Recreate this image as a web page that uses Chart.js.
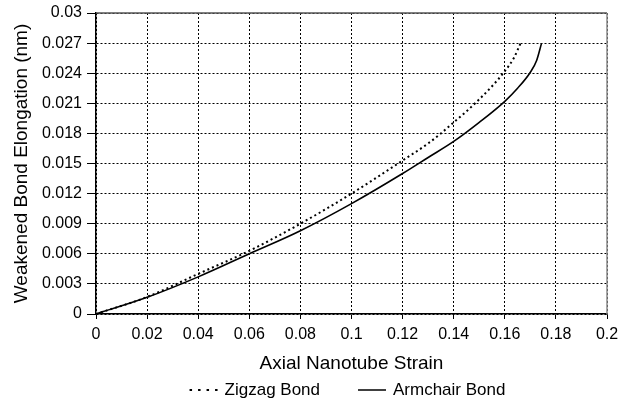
<!DOCTYPE html>
<html><head><meta charset="utf-8">
<script src="https://cdn.jsdelivr.net/npm/chart.js@4/dist/chart.umd.min.js"></script>
<style>html,body{margin:0;padding:0;background:#fff}#wrap{width:619px;height:405px}</style>
</head><body><div id="wrap"><canvas id="c" width="619" height="405"></canvas></div>
<script>
// ---- data ----
const xTickValues = [0, 0.02, 0.04, 0.06, 0.08, 0.1, 0.12, 0.14, 0.16, 0.18, 0.2];
const xTickLabels = ['0', '0.02', '0.04', '0.06', '0.08', '0.1', '0.12', '0.14', '0.16', '0.18', '0.2'];
const yTickValues = [0, 0.003, 0.006, 0.009, 0.012, 0.015, 0.018, 0.021, 0.024, 0.027, 0.03];
const yTickLabels = ['0', '0.003', '0.006', '0.009', '0.012', '0.015', '0.018', '0.021', '0.024', '0.027', '0.03'];

const zigzagStrain = [0, 0.02, 0.04, 0.06, 0.08, 0.1, 0.12, 0.13, 0.135, 0.14, 0.145, 0.15, 0.155, 0.16, 0.1635, 0.1662];
const zigzagElong  = [0, 0.0017, 0.004, 0.0063, 0.009, 0.012, 0.0153, 0.017, 0.018, 0.0191, 0.0202, 0.0214, 0.0227, 0.0242, 0.0255, 0.027];

const armchairStrain = [0, 0.02, 0.04, 0.06, 0.08, 0.1, 0.12, 0.13, 0.14, 0.15, 0.16, 0.165, 0.17, 0.1725, 0.1744];
const armchairElong  = [0, 0.00166, 0.0037, 0.006, 0.0083, 0.011, 0.014, 0.0156, 0.0172, 0.0191, 0.0212, 0.0225, 0.0241, 0.0253, 0.027];

const seriesNames = ['Zigzag Bond', 'Armchair Bond'];
// ---------------

const toPts = (xs, ys) => xs.map((x, i) => ({x: x, y: ys[i]}));
const FONT = "'Liberation Sans', Arial, sans-serif";

const frame = {
  id: 'frame',
  afterDatasetsDraw(chart) {
    const a = chart.chartArea, ctx = chart.ctx;
    ctx.save();
    ctx.lineWidth = 1.5;
    ctx.strokeStyle = '#555';
    ctx.beginPath(); ctx.moveTo(a.left, a.top); ctx.lineTo(a.right, a.top); ctx.stroke();
    ctx.strokeStyle = '#8a8a8a';
    ctx.beginPath(); ctx.moveTo(a.right, a.top); ctx.lineTo(a.right, a.bottom); ctx.stroke();
    ctx.restore();
  }
};

const bottomLegend = {
  id: 'bottomLegend',
  afterDraw(chart) {
    const ctx = chart.ctx, a = chart.chartArea;
    const y = 390, lineLen = 28, gapText = 7, gapItem = 38;
    ctx.save();
    ctx.font = "17px " + FONT;
    ctx.textBaseline = 'middle';
    ctx.fillStyle = '#000';
    const widths = seriesNames.map(n => ctx.measureText(n).width);
    const total = lineLen * 2 + gapText * 2 + widths[0] + widths[1] + gapItem;
    let x = (a.left + a.right) / 2 - 4 - total / 2;
    const dashes = [[2.5, 6], []];
    const lws = [2, 1.5];
    seriesNames.forEach((n, i) => {
      ctx.strokeStyle = '#000';
      ctx.lineWidth = lws[i];
      ctx.setLineDash(dashes[i]);
      ctx.beginPath(); ctx.moveTo(x, y); ctx.lineTo(x + lineLen, y); ctx.stroke();
      ctx.setLineDash([]);
      x += lineLen + gapText;
      ctx.fillText(n, x, y);
      x += widths[i] + gapItem;
    });
    ctx.restore();
  }
};

new Chart(document.getElementById('c'), {
  type: 'scatter',
  data: {
    datasets: [
      {
        label: seriesNames[0],
        data: toPts(zigzagStrain, zigzagElong),
        showLine: true, borderColor: '#000', backgroundColor: '#000',
        borderWidth: 2, borderDash: [2, 3], pointRadius: 0,
        cubicInterpolationMode: 'monotone'
      },
      {
        label: seriesNames[1],
        data: toPts(armchairStrain, armchairElong),
        showLine: true, borderColor: '#000', backgroundColor: '#000',
        borderWidth: 1.6, pointRadius: 0,
        cubicInterpolationMode: 'monotone'
      }
    ]
  },
  options: {
    responsive: false,
    animation: false,
    devicePixelRatio: 1,
    layout: { padding: { left: 0, right: 12, top: 13, bottom: 30 } },
    plugins: {
      tooltip: { enabled: false },
      legend: { display: false }
    },
    scales: {
      x: {
        type: 'linear', min: 0, max: 0.2,
        afterBuildTicks: s => { s.ticks = xTickValues.map(v => ({value: v})); },
        afterFit: s => { s.height = 61; s.paddingRight = 0; s.paddingLeft = 0; },
        ticks: {
          color: '#000', padding: 6, maxRotation: 0, autoSkip: false,
          font: { family: FONT, size: 16 },
          callback: (v, i) => xTickLabels[i]
        },
        grid: { color: '#000', lineWidth: 1, tickLength: 5, tickBorderDash: [], tickColor: '#000' },
        border: { color: '#000', width: 1.5, dash: [2, 2] },
        title: { display: true, text: 'Axial Nanotube Strain', color: '#000',
                 font: { family: FONT, size: 19 }, padding: { top: 0, bottom: 0 } }
      },
      y: {
        type: 'linear', min: 0, max: 0.03,
        afterBuildTicks: s => { s.ticks = yTickValues.map(v => ({value: v})); },
        afterFit: s => { s.width = 96; s.paddingTop = 0; s.paddingBottom = 0; },
        ticks: {
          color: '#000', padding: 5, autoSkip: false,
          font: { family: FONT, size: 16 },
          callback: (v, i) => yTickLabels[i]
        },
        grid: { color: '#000', lineWidth: 1, tickLength: 9, tickBorderDash: [], tickColor: '#000' },
        border: { color: '#000', width: 1.5, dash: [2, 2] },
        title: { display: true, text: 'Weakened Bond Elongation (nm)', color: '#000',
                 font: { family: FONT, size: 19 }, padding: { top: 10, bottom: 0 } }
      }
    }
  },
  plugins: [frame, bottomLegend]
});
</script>
</body></html>
